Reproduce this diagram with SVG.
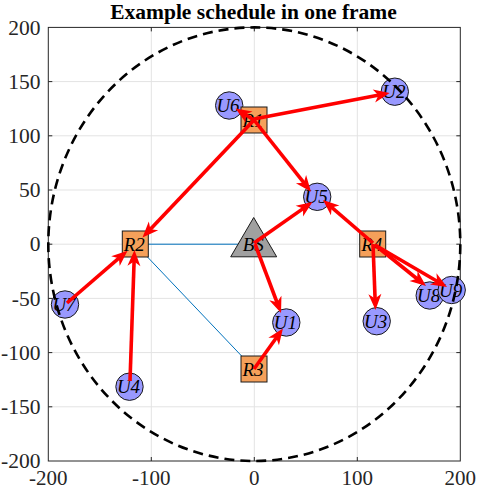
<svg xmlns="http://www.w3.org/2000/svg" width="498" height="490" viewBox="0 0 498 490">
<style>
.grid{stroke:#e3e3e3;stroke-width:1;fill:none}
.axis{stroke:#262626;stroke-width:1;fill:none}
.tick{font-family:"Liberation Serif","Times New Roman",serif;font-size:21.5px;fill:#262626}
.xt{font-size:21px}
.title{font-family:"Liberation Serif","Times New Roman",serif;font-size:21.5px;font-weight:bold;fill:#000}
.lbl{font-family:"Liberation Serif","Times New Roman",serif;font-size:19px;font-style:italic;fill:#000;text-anchor:middle}
.user{fill:#9999ff;stroke:#1a1a1a;stroke-width:1}
.relay{fill:#f5a05a;stroke:#1a1a1a;stroke-width:1}
.bs{fill:#a0a0a0;stroke:#1a1a1a;stroke-width:1}
.link{stroke:#0072bd;stroke-width:1;fill:none}
.arr{stroke:#ff0000;stroke-width:3.6;fill:none;marker-end:url(#head)}
</style>
<defs>
<marker id="head" markerUnits="userSpaceOnUse" viewBox="0 0 18 15" markerWidth="18" markerHeight="15" refX="9" refY="7.5" orient="auto">
<path d="M1,1 L17,7.5 L1,14 L5.5,7.5 Z" fill="#ff0000"/>
</marker>
</defs>
<rect width="498" height="490" fill="#ffffff"/>
<text class="title" x="253.5" y="18.5" text-anchor="middle">Example schedule in one frame</text>
<g id="grid">
<path class="grid" d="M151.3,27.4V461 M254.3,27.4V461 M357.3,27.4V461 M48.3,81.6H460.3 M48.3,135.8H460.3 M48.3,190H460.3 M48.3,244.2H460.3 M48.3,298.4H460.3 M48.3,352.6H460.3 M48.3,406.8H460.3"/>
</g>
<g id="axes">
<rect class="axis" x="48.3" y="27.4" width="412" height="433.6"/>
<path class="axis" d="M151.3,461v-4 M254.3,461v-4 M357.3,461v-4 M151.3,27.4v4 M254.3,27.4v4 M357.3,27.4v4 M48.3,81.6h4 M48.3,135.8h4 M48.3,190h4 M48.3,244.2h4 M48.3,298.4h4 M48.3,352.6h4 M48.3,406.8h4 M460.3,81.6h-4 M460.3,135.8h-4 M460.3,190h-4 M460.3,244.2h-4 M460.3,298.4h-4 M460.3,352.6h-4 M460.3,406.8h-4"/>
<g class="tick" text-anchor="end">
<text x="40.5" y="34.6">200</text>
<text x="40.5" y="88.8">150</text>
<text x="40.5" y="143">100</text>
<text x="40.5" y="197.2">50</text>
<text x="40.5" y="251.4">0</text>
<text x="40.5" y="305.6">-50</text>
<text x="40.5" y="359.8">-100</text>
<text x="40.5" y="414">-150</text>
<text x="40.5" y="468">-200</text>
</g>
<g class="tick xt" text-anchor="middle">
<text x="48.3" y="485.3">-200</text>
<text x="151.3" y="485.3">-100</text>
<text x="254.3" y="485.3">0</text>
<text x="357.3" y="485.3">100</text>
<text x="460.3" y="485.3">200</text>
</g>
</g>
<g id="links">
<path class="link" d="M135.3,244.2H254 M135.3,244.2L254,369"/>
</g>
<g id="U6"><circle class="user" cx="229.2" cy="105.5" r="13.7"/><text class="lbl" x="228" y="112">U6</text></g>
<g id="U2"><circle class="user" cx="394.8" cy="91.7" r="13.7"/><text class="lbl" x="393.8" y="98.2">U2</text></g>
<g id="U5"><circle class="user" cx="317.2" cy="196.8" r="13.7"/><text class="lbl" x="316.2" y="203.3">U5</text></g>
<g id="U7"><circle class="user" cx="65" cy="304.5" r="13.7"/><text class="lbl" x="64" y="311">U7</text></g>
<g id="U4"><circle class="user" cx="129.5" cy="386.7" r="13.7"/><text class="lbl" x="128.5" y="393.2">U4</text></g>
<g id="U1"><circle class="user" cx="286.3" cy="322.5" r="13.7"/><text class="lbl" x="285.3" y="329">U1</text></g>
<g id="U3"><circle class="user" cx="376.7" cy="321.2" r="13.7"/><text class="lbl" x="375.7" y="327.7">U3</text></g>
<g id="U8"><circle class="user" cx="429.7" cy="295.5" r="13.7"/><text class="lbl" x="428.7" y="302">U8</text></g>
<g id="U9"><circle class="user" cx="451.7" cy="290" r="13.7"/><text class="lbl" x="450.7" y="296.5">U9</text></g>
<g id="R1"><rect class="relay" x="241" y="107" width="26" height="26"/><text class="lbl" x="253" y="126.5">R1</text></g>
<g id="R2"><rect class="relay" x="122.3" y="231" width="26" height="26"/><text class="lbl" x="134.3" y="250.5">R2</text></g>
<g id="R3"><rect class="relay" x="241" y="356" width="26" height="26"/><text class="lbl" x="253" y="375.5">R3</text></g>
<g id="R4"><rect class="relay" x="359.7" y="231" width="26" height="26"/><text class="lbl" x="371.7" y="250.5">R4</text></g>
<g id="BS"><path class="bs" d="M253.7,217.5 L230.7,256.8 L276.7,256.8 Z"/><text class="lbl" x="253.3" y="251">BS</text></g>
<g id="coverage">
<ellipse cx="254.3" cy="244.2" rx="206" ry="216.8" fill="none" stroke="#000" stroke-width="2.6" stroke-dasharray="10,6"/>
</g>
<g id="arrows">
<line class="arr" x1="254" y1="120" x2="242.3" y2="112.7"/>
<line class="arr" x1="254" y1="119" x2="381.8" y2="94.5"/>
<line class="arr" x1="254" y1="120" x2="148" y2="231.7"/>
<line class="arr" x1="254" y1="120" x2="306" y2="185.4"/>
<line class="arr" x1="254" y1="243" x2="305.9" y2="206.6"/>
<line class="arr" x1="373" y1="243" x2="329.1" y2="205.2"/>
<line class="arr" x1="255" y1="244" x2="278.2" y2="305.5"/>
<line class="arr" x1="254" y1="369" x2="278.3" y2="335"/>
<line class="arr" x1="373" y1="244" x2="375.2" y2="302"/>
<line class="arr" x1="375" y1="245" x2="419.8" y2="281"/>
<line class="arr" x1="375" y1="245" x2="440.1" y2="283"/>
<line class="arr" x1="67" y1="303" x2="121.5" y2="255.9"/>
<line class="arr" x1="130" y1="381" x2="134.2" y2="258"/>
</g>
</svg>
